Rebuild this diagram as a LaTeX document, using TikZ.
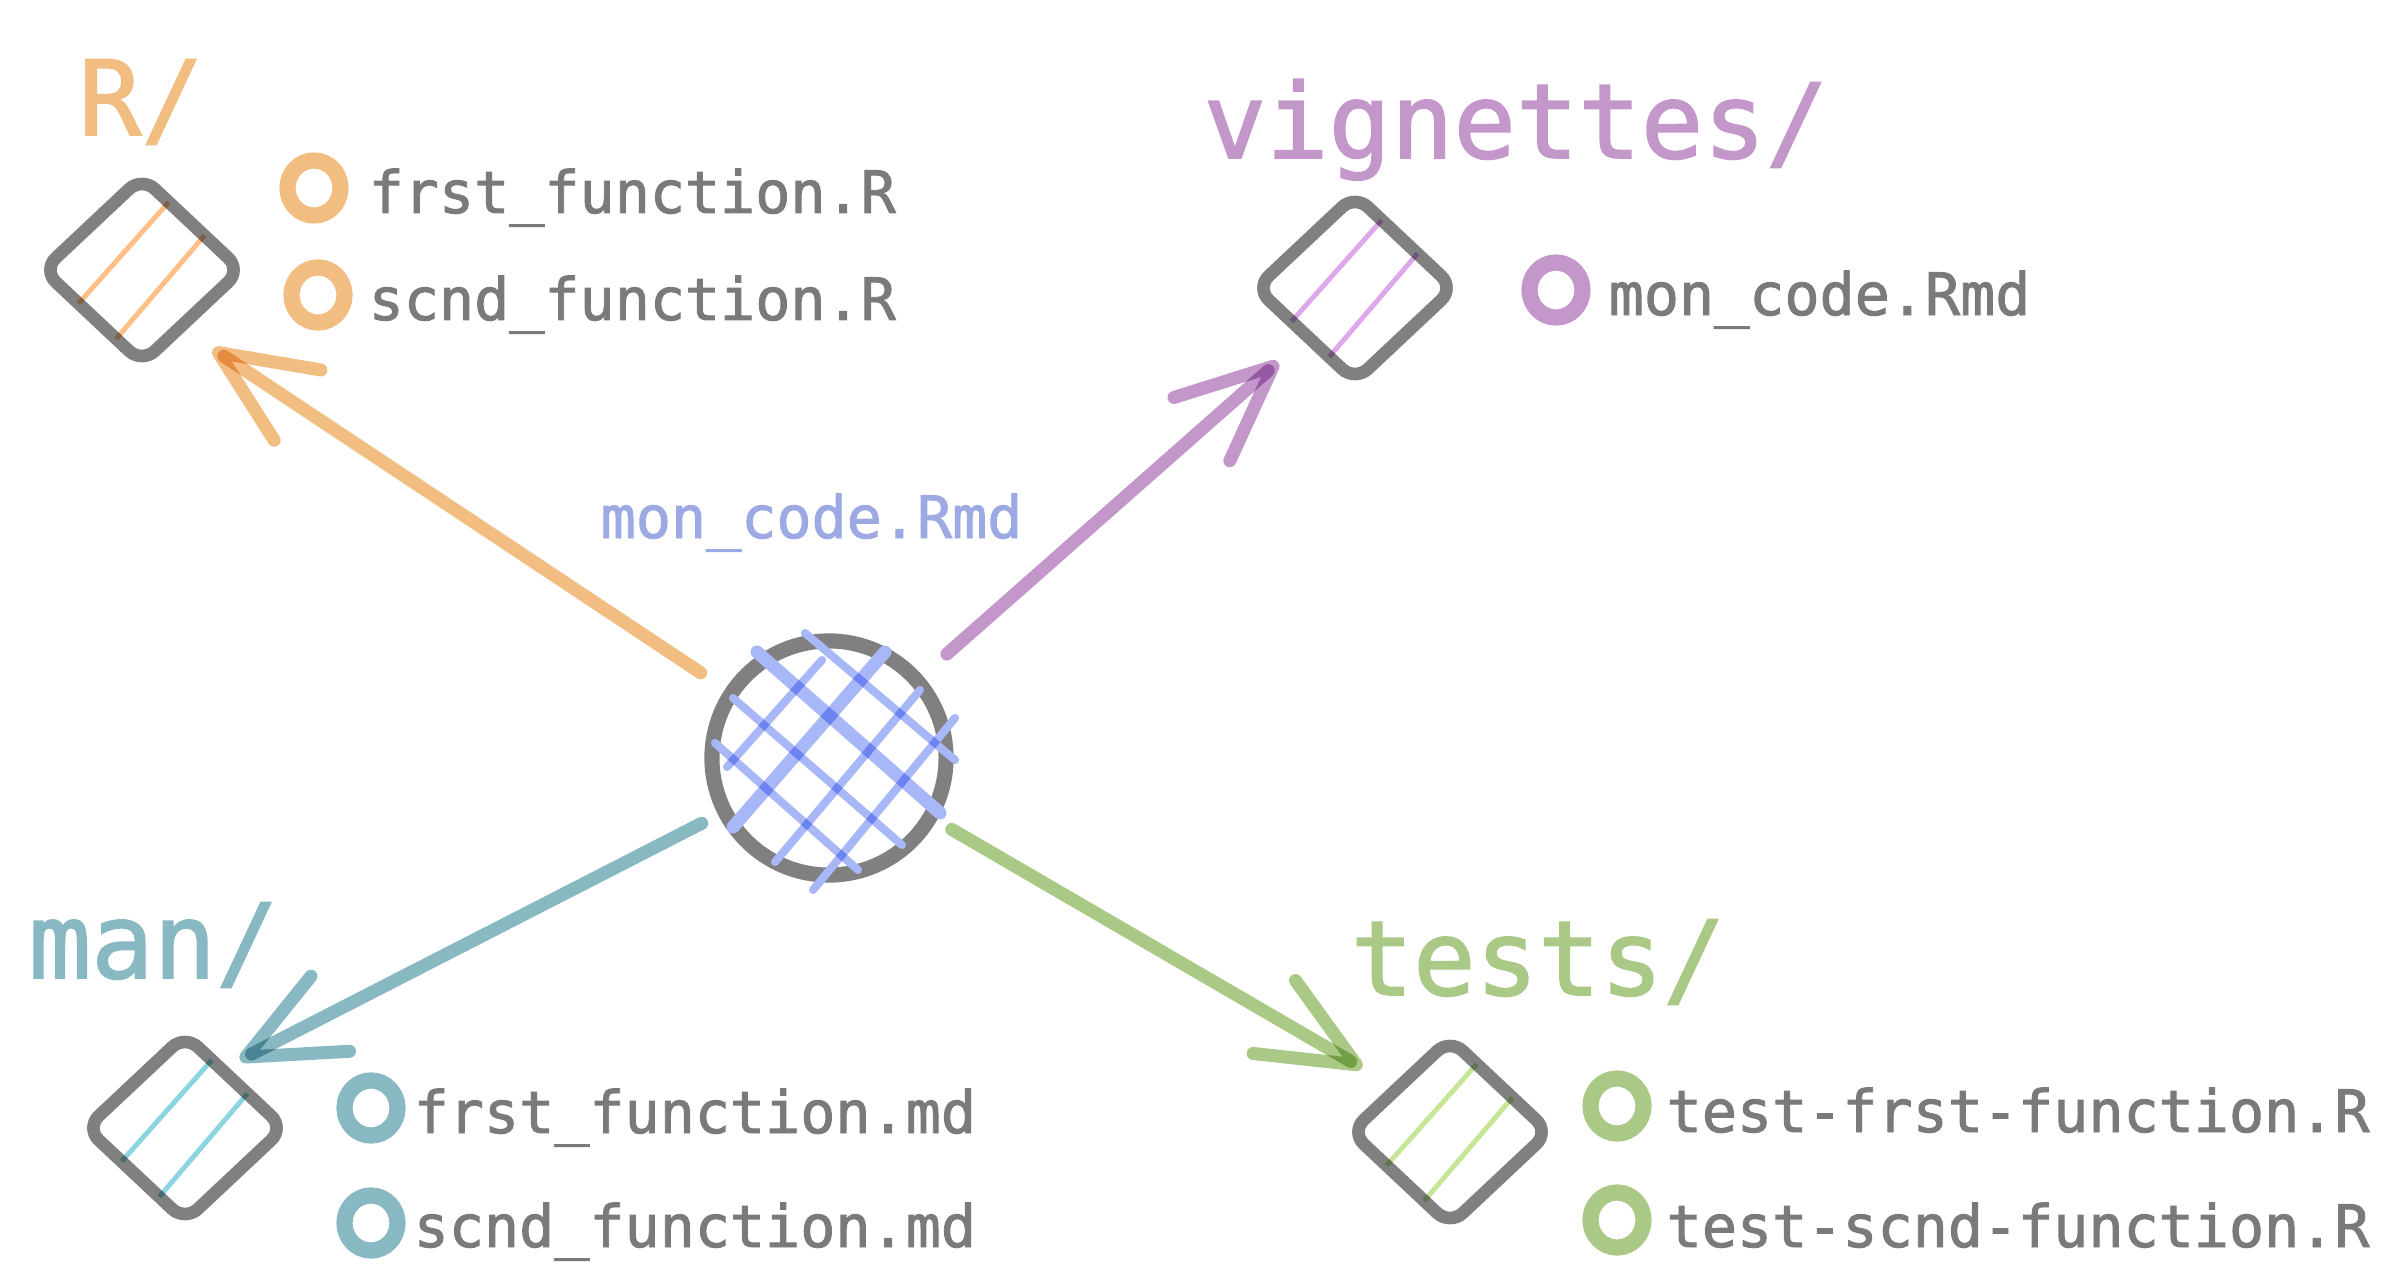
\documentclass[tikz,border=0pt]{standalone}
\usepackage{fontspec}
\setmonofont{DejaVu Sans Mono}
\newfontfamily\filefont{DejaVu Sans Mono}[FakeBold=1.6]
\usetikzlibrary{arrows.meta,shapes.geometric,calc,positioning}

\definecolor{cR}{HTML}{F2BD80}
\definecolor{cRl}{HTML}{FFBF86}
\definecolor{cV}{HTML}{C497CB}
\definecolor{cVl}{HTML}{DDA8EC}
\definecolor{cM}{HTML}{88B8C2}
\definecolor{cMl}{HTML}{8CD5E0}
\definecolor{cT}{HTML}{ABC986}
\definecolor{cTl}{HTML}{C5E597}
\definecolor{cB}{HTML}{9CA9E3}
\definecolor{cBl}{HTML}{A7B7F7}
\definecolor{cG}{HTML}{808080}

\tikzset{
  folder/.style={diamond, draw=cG, line width=3.6pt, rounded corners=5pt,
    minimum width=1.98cm, minimum height=1.86cm, inner sep=0pt, outer sep=0pt},
  bullet/.style={ellipse, draw=#1, line width=4.6pt, minimum width=0.53cm,
    minimum height=0.55cm, inner sep=0pt},
  fname/.style={anchor=base west, inner sep=0pt, text=cG!95!black,
    font=\filefont\fontsize{16.6}{20}\selectfont},
  dname/.style={anchor=base west, inner sep=0pt, text=#1,
    font=\filefont\fontsize{29.5}{34}\selectfont},
  stripe/.style={draw=#1, line width=1.4pt, blend mode=multiply},
  link/.style={draw=#1, line width=3.7pt, line cap=round, line join=round,
    blend mode=multiply, -{Straight Barb[length=27pt, width=24pt, round]}},
  hatch/.style={draw=cBl, line cap=round},
}

\begin{document}
\begin{tikzpicture}[x=0.01cm, y=-0.01cm]
  \path[fill=white, use as bounding box] (0,0) rectangle (2399,1288);

  % folders
  \node[folder] (Rdir) at (142,270) {};
  \node[folder] (vigdir) at (1355,288) {};
  \node[folder] (mandir) at (185,1128) {};
  \node[folder] (testdir) at (1450,1132) {};
  \foreach \d/\c in {Rdir/cRl, vigdir/cVl, mandir/cMl, testdir/cTl}{
    \draw[stripe=\c] ($(\d.north)!0.27!(\d.east)$) -- ($(\d.west)!0.36!(\d.south)$);
    \draw[stripe=\c] ($(\d.north)!0.63!(\d.east)$) -- ($(\d.west)!0.74!(\d.south)$);
  }

  \node[dname=cR] (Rlab) at (78,135) {R/};
  \node[dname=cV] (viglab) at (1203,158) {vignettes/};
  \node[dname=cM] (manlab) at (28,978) {man/};
  \node[dname=cT] (testlab) at (1350,995) {tests/};

  % centre file
  \node[circle, draw=cG, line width=4.3pt, minimum size=2.34cm, inner sep=0pt,
    outer sep=0pt] (hub) at (829,758) {};
  \begin{scope}[blend group=multiply]
    \foreach \ax/\ay/\bx/\by/\w in {-24/-125/126/2/2.3, -72/-106/111/55/3.7,
        -96/-60/73/87/2.3, -114/-15/29/112/2.3, -7/-98/-102/9/2.3,
        56/-106/-96/69/3.7, 91/-68/-54/104/2.3, 126/-40/-16/132/2.3}{
      \draw[hatch, line width=\w pt] ($(hub)+(\ax,\ay)$) -- ($(hub)+(\bx,\by)$);
    }
  \end{scope}
  \node[fname, text=cB] (hublab) at (600,538) {mon\_code.Rmd};

  % links
  \coordinate (Rtip) at ($(Rdir)+(71,79)$);
  \coordinate (vigtip) at ($(vigdir)+(-77,74)$);
  \coordinate (mantip) at ($(mandir)+(55,-68)$);
  \coordinate (testtip) at ($(testdir)+(-88,-64)$);
  \draw[link=cR, shorten <=10.5pt] (hub) -- (Rtip);
  \draw[link=cV, shorten <=11.4pt] (hub) -- (vigtip);
  \draw[link=cM, shorten <=7.4pt] (hub) -- (mantip);
  \draw[link=cT, shorten <=7.1pt] (hub) -- (testtip);

  % files
  \node[bullet=cR] (r1b) at (314,188) {};
  \node[fname] (r1) at (368,213) {frst\_function.R};
  \node[bullet=cR] (r2b) at (318,295) {};
  \node[fname] (r2) at (368,320) {scnd\_function.R};
  \node[bullet=cV] (v1b) at (1556,290) {};
  \node[fname] (v1) at (1608,315) {mon\_code.Rmd};
  \node[bullet=cM] (m1b) at (371,1108) {};
  \node[fname] (m1) at (413,1133) {frst\_function.md};
  \node[bullet=cM] (m2b) at (371,1223) {};
  \node[fname] (m2) at (413,1247) {scnd\_function.md};
  \node[bullet=cT] (t1b) at (1617,1106) {};
  \node[fname] (t1) at (1666,1132) {test-frst-function.R};
  \node[bullet=cT] (t2b) at (1617,1220) {};
  \node[fname] (t2) at (1666,1247) {test-scnd-function.R};
\end{tikzpicture}
\end{document}
